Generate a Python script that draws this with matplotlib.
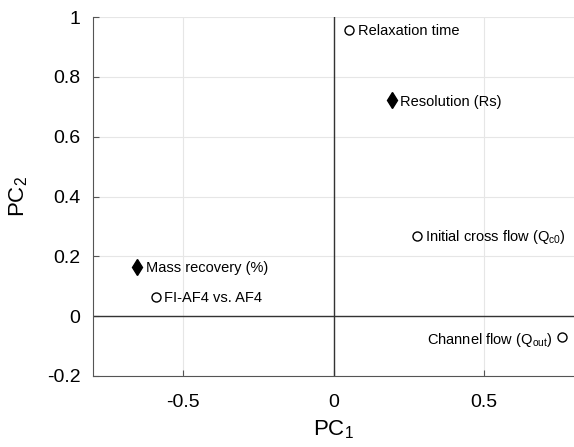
import matplotlib
matplotlib.use('Agg')
from matplotlib import pyplot as plt

plt.rcParams['font.family'] = ['Liberation Sans', 'DejaVu Sans']
plt.rcParams['mathtext.fontset'] = 'custom'
plt.rcParams['mathtext.rm'] = 'Liberation Sans'
plt.rcParams['mathtext.it'] = 'Liberation Sans:italic'

# loadings
names = ['Relaxation time', 'Resolution (Rs)', 'Initial cross flow (Q$_{\\mathrm{c0}}$)',
         'Mass recovery (%)', 'FI-AF4 vs. AF4', 'Channel flow (Q$_{\\mathrm{out}}$)']
pc1 = [0.053, 0.193, 0.277, -0.653, -0.59, 0.76]
pc2 = [0.957, 0.722, 0.268, 0.164, 0.064, -0.07]
filled = [False, True, False, True, False, False]
labelLeft = [False, False, False, False, False, True]

fig = plt.figure(figsize=(5.74, 4.47), dpi=100)
ax = fig.add_axes([93/574, 1-376/447, 481/574, 359/447])

ax.axhline(0, color='#333333', lw=1.0, zorder=2)
ax.axvline(0, color='#333333', lw=1.0, zorder=2)

for x, y, nm, f, lft in zip(pc1, pc2, names, filled, labelLeft):
    if f:
        ax.plot(x, y, marker='d', ms=8.5, mfc='black', mec='black', ls='none', zorder=3)
    else:
        ax.plot(x, y, marker='o', ms=6.5, mfc='white', mec='black', mew=1.0, ls='none', zorder=3)
    if lft:
        ax.annotate(nm, (x, y), xytext=(-7, -2), textcoords='offset points',
                    ha='right', va='center', fontsize=10.5)
    else:
        ax.annotate(nm, (x, y), xytext=(6, -1), textcoords='offset points',
                    ha='left', va='center', fontsize=10.5)

ax.set_xlim(-0.8, 0.8)
ax.set_ylim(-0.2, 1.0)
ax.set_xticks([-0.5, 0, 0.5])
ax.set_xticklabels(['-0.5', '0', '0.5'])
ax.set_yticks([-0.2, 0, 0.2, 0.4, 0.6, 0.8, 1])
ax.set_yticklabels(['-0.2', '0', '0.2', '0.4', '0.6', '0.8', '1'])
ax.grid(True, color='#e6e6e6', lw=0.8)
ax.set_axisbelow(True)
ax.tick_params(direction='in', labelsize=14, length=4, color='#555555')
ax.tick_params(axis='x', pad=13)
ax.tick_params(axis='y', pad=9)
for s in ['top', 'right']:
    ax.spines[s].set_visible(False)
for s in ['left', 'bottom']:
    ax.spines[s].set_color('#555555')

ax.set_xlabel('PC$_{1}$', fontsize=16, labelpad=5)
ax.set_ylabel('PC$_{2}$', fontsize=16, labelpad=12)

fig.savefig('out.png', dpi=100)
